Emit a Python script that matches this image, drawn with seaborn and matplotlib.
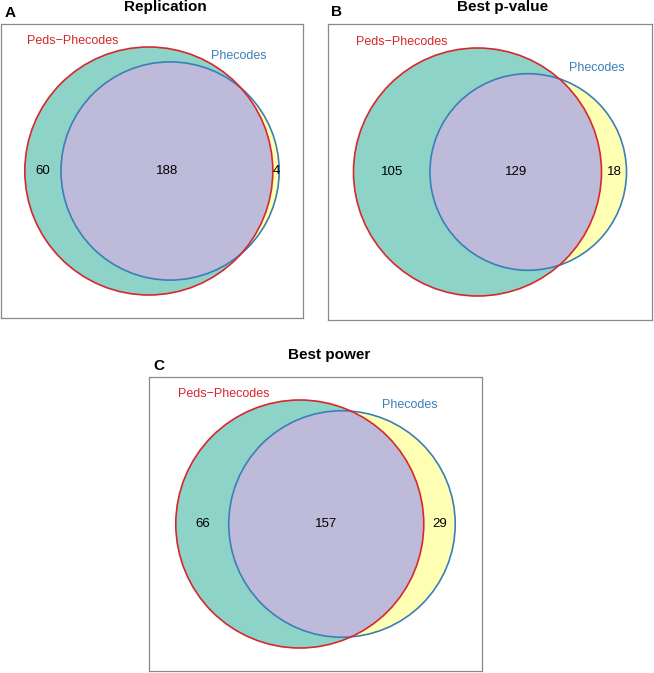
import numpy as np
import matplotlib
matplotlib.use("Agg")
import matplotlib.pyplot as plt
import seaborn as sns
from matplotlib.patches import Circle

# Venn counts per panel
panels = ["Replication", "Best p-value", "Best power"]
tags = ["A", "B", "C"]
set_names = ["Peds\u2212Phecodes", "Phecodes"]
only_peds = [60, 105, 66]
shared = [188, 129, 157]
only_phe = [4, 18, 29]

sns.set_theme(style="white")
plt.rcParams["font.family"] = ["Liberation Sans", "DejaVu Sans"]
plt.rcParams["text.color"] = "black"

set3 = sns.color_palette("Set3", 3)
fill_left, fill_right, fill_mid = set3[0], set3[1], set3[2]
red = "#d6282e"
blue = "#3b7fb8"

W, H = 654, 673
R_PX = 124.0  # pixel radius of the larger circle

# panel boxes in pixels: left, top, width, height
boxes = [(1, 24, 302, 294), (328, 24, 324, 296), (149, 377, 333, 294)]
# title (x centre, baseline) and tag (left, baseline) in pixels
title_pos = [(165.5, 11.5), (503, 11), (329, 359)]
tag_pos = [(5, 17), (331, 16), (153, 370)]


def lens_area(r1, r2, d):
    if d >= r1 + r2:
        return 0.0
    if d <= abs(r1 - r2):
        return np.pi * min(r1, r2) ** 2
    a1 = r1 ** 2 * np.arccos((d ** 2 + r1 ** 2 - r2 ** 2) / (2 * d * r1))
    a2 = r2 ** 2 * np.arccos((d ** 2 + r2 ** 2 - r1 ** 2) / (2 * d * r2))
    a3 = 0.5 * np.sqrt((-d + r1 + r2) * (d + r1 - r2) * (d - r1 + r2) * (d + r1 + r2))
    return a1 + a2 - a3


def centre_gap(r1, r2, area):
    lo, hi = abs(r1 - r2), r1 + r2
    for _ in range(80):
        mid = (lo + hi) / 2
        if lens_area(r1, r2, mid) > area:
            lo = mid
        else:
            hi = mid
    return (lo + hi) / 2


fig = plt.figure(figsize=(W / 100, H / 100), dpi=100)

for i in range(3):
    x0, y0, w, h = boxes[i]
    ax = fig.add_axes([x0 / W, 1 - (y0 + h) / H, w / W, h / H])
    xw, yh = w / R_PX, h / R_PX
    ax.set_xlim(0, xw)
    ax.set_ylim(0, yh)
    ax.set_xticks([])
    ax.set_yticks([])
    for s in ax.spines.values():
        s.set_color("#8a8a8a")
        s.set_linewidth(0.9)

    tot1 = only_peds[i] + shared[i]
    tot2 = only_phe[i] + shared[i]
    big = max(tot1, tot2)
    r1 = np.sqrt(tot1 / big)
    r2 = np.sqrt(tot2 / big)
    d = centre_gap(r1, r2, np.pi * shared[i] / big)

    left, right = -r1, d + r2
    shift = xw / 2 - (left + right) / 2
    c1 = shift
    c2 = shift + d
    cy = yh / 2

    ax.add_patch(Circle((c1, cy), r1, facecolor=fill_left, edgecolor="none", zorder=1))
    ax.add_patch(Circle((c2, cy), r2, facecolor=fill_right, edgecolor="none", zorder=1))
    clip = Circle((c1, cy), r1, transform=ax.transData)
    mid = Circle((c2, cy), r2, facecolor=fill_mid, edgecolor="none", zorder=2)
    ax.add_patch(mid)
    mid.set_clip_path(clip)
    ax.add_patch(Circle((c2, cy), r2, facecolor="none", edgecolor=blue, lw=1.2, zorder=3))
    ax.add_patch(Circle((c1, cy), r1, facecolor="none", edgecolor=red, lw=1.2, zorder=4))

    fs = 9.5
    ax.text(((c1 - r1) + (c2 - r2)) / 2, cy, str(only_peds[i]), ha="center", va="center",
            fontsize=fs, color="black", zorder=5)
    ax.text(((c2 - r2) + (c1 + r1)) / 2, cy, str(shared[i]), ha="center", va="center",
            fontsize=fs, color="black", zorder=5)
    ax.text(((c1 + r1) + (c2 + r2)) / 2, cy, str(only_phe[i]), ha="center", va="center",
            fontsize=fs, color="black", zorder=5)

    ax.text(c1 - 30 / R_PX, cy + r1 + 6 / R_PX, set_names[0], ha="right", va="center",
            fontsize=9, color=red, zorder=5)
    ax.text(c2 + 40.5 / R_PX, cy + r2 + 6 / R_PX, set_names[1], ha="left", va="center",
            fontsize=9, color=blue, zorder=5)

    tx, ty = title_pos[i]
    fig.text(tx / W, 1 - ty / H, panels[i], ha="center", va="baseline",
             fontsize=11, fontweight="bold", color="black")
    gx, gy = tag_pos[i]
    fig.text(gx / W, 1 - gy / H, tags[i], ha="left", va="baseline",
             fontsize=11, fontweight="bold", color="black")

fig.savefig("out.png", dpi=100)
